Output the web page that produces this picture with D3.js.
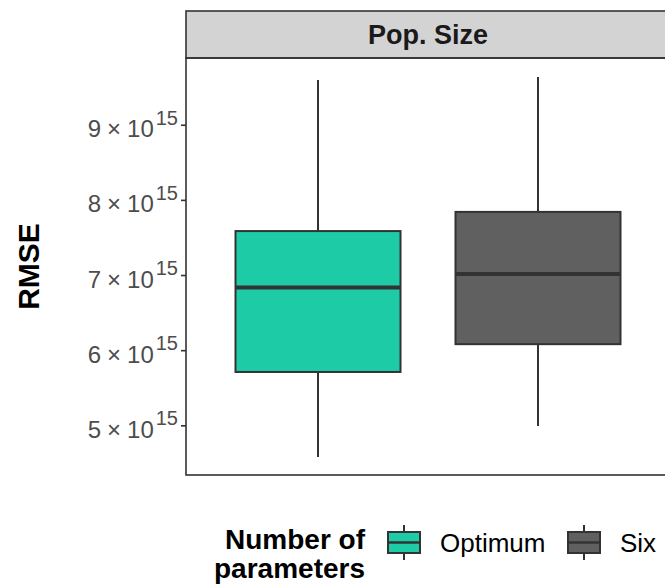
<!DOCTYPE html>
<html>
<head>
<meta charset="utf-8">
<script src="https://cdn.jsdelivr.net/npm/d3@7"></script>
<style>
body { margin: 0; background: #fff; }
svg { display: block; font-family: "Liberation Sans", Arial, sans-serif; }
</style>
</head>
<body>
<svg id="chart" width="665" height="587"></svg>
<script>
// ---- data ----
const categories = ["Optimum", "Six"];
const colors = ["#1ECBA7", "#606060"];
const whiskerLow = [4.58e15, 4.99e15];
const q1 = [5.71e15, 6.08e15];
const median = [6.835e15, 7.015e15];
const q3 = [7.585e15, 7.84e15];
const whiskerHigh = [9.595e15, 9.635e15];
const tickMantissa = [5, 6, 7, 8, 9];
const tickExponent = 15;
const facetLabel = "Pop. Size";
const yTitle = "RMSE";
const legendTitle = ["Number of", "parameters"];

const svg = d3.select("#chart");
const panel = { left: 186, top: 58, right: 670, bottom: 475 };
const strip = { top: 11, bottom: 58 };

// ggplot-like discrete positions at 1..n with 0.6 expansion
const xc = d3.scaleLinear().domain([0.4, categories.length + 0.6]).range([panel.left, panel.right]);
const boxW = xc(1.75) - xc(1);

const y = d3.scaleLinear().domain([4.339e15, 9.888e15]).range([panel.bottom, panel.top]);

const dark = "#333333";

// strip
svg.append("rect").attr("x", panel.left).attr("y", strip.top)
  .attr("width", panel.right - panel.left).attr("height", strip.bottom - strip.top)
  .attr("fill", "#d3d3d3").attr("stroke", dark).attr("stroke-width", 1.6);
svg.append("text").attr("x", 428).attr("y", (strip.top + strip.bottom) / 2)
  .attr("dy", "0.36em").attr("text-anchor", "middle")
  .attr("font-size", 27).attr("font-weight", "bold").attr("fill", "#1a1a1a").text(facetLabel);

// panel border
svg.append("rect").attr("x", panel.left).attr("y", panel.top)
  .attr("width", panel.right - panel.left).attr("height", panel.bottom - panel.top)
  .attr("fill", "none").attr("stroke", dark).attr("stroke-width", 1.6);

// y axis
const yAxis = d3.axisLeft(y).tickValues(tickMantissa.map(m => m * Math.pow(10, tickExponent)))
  .tickSize(5).tickPadding(4).tickFormat("");
const ga = svg.append("g").attr("transform", `translate(${panel.left},0)`).call(yAxis);
ga.select(".domain").remove();
ga.selectAll(".tick line").attr("stroke", dark).attr("stroke-width", 1.6);
ga.selectAll(".tick").each(function(d, i) {
  const t = d3.select(this).append("text").attr("x", -8).attr("dy", "0.5em")
    .attr("text-anchor", "end").attr("fill", "#4d4d4d").attr("font-size", 24);
  t.append("tspan").text(tickMantissa[i]);
  t.append("tspan").attr("dx", 6).text("\u00d7");
  t.append("tspan").attr("dx", 6).text("10");
  t.append("tspan").attr("font-size", 20).attr("dy", "-0.62em").attr("dx", 2).text(tickExponent);
});

// y title
svg.append("text").attr("transform", `translate(39,${(panel.top + panel.bottom) / 2}) rotate(-90)`)
  .attr("text-anchor", "middle").attr("font-size", 30).attr("font-weight", "bold")
  .attr("fill", "#000").text(yTitle);

// boxes
const g = svg.append("g");
categories.forEach((c, i) => {
  const cx = xc(i + 1);
  g.append("line").attr("x1", cx).attr("x2", cx).attr("y1", y(whiskerHigh[i])).attr("y2", y(q3[i]))
    .attr("stroke", dark).attr("stroke-width", 2);
  g.append("line").attr("x1", cx).attr("x2", cx).attr("y1", y(q1[i])).attr("y2", y(whiskerLow[i]))
    .attr("stroke", dark).attr("stroke-width", 2);
  g.append("rect").attr("x", cx - boxW / 2).attr("y", y(q3[i]))
    .attr("width", boxW).attr("height", y(q1[i]) - y(q3[i]))
    .attr("fill", colors[i]).attr("stroke", dark).attr("stroke-width", 2);
  g.append("line").attr("x1", cx - boxW / 2).attr("x2", cx + boxW / 2)
    .attr("y1", y(median[i])).attr("y2", y(median[i]))
    .attr("stroke", dark).attr("stroke-width", 4);
});

// legend
const lg = svg.append("g");
lg.append("text").attr("x", 365).attr("y", 549).attr("text-anchor", "end")
  .attr("font-size", 28).attr("font-weight", "bold").attr("fill", "#000").text(legendTitle[0]);
lg.append("text").attr("x", 365).attr("y", 578).attr("text-anchor", "end")
  .attr("font-size", 28).attr("font-weight", "bold").attr("fill", "#000").text(legendTitle[1]);
const keyX = [388, 568];
const labX = [440, 620];
categories.forEach((c, i) => {
  const kx = keyX[i], kw = 32, ky = 532, kh = 21;
  lg.append("line").attr("x1", kx + kw / 2).attr("x2", kx + kw / 2).attr("y1", 525).attr("y2", 560)
    .attr("stroke", dark).attr("stroke-width", 2);
  lg.append("rect").attr("x", kx).attr("y", ky).attr("width", kw).attr("height", kh)
    .attr("fill", colors[i]).attr("stroke", dark).attr("stroke-width", 2);
  lg.append("line").attr("x1", kx).attr("x2", kx + kw).attr("y1", ky + kh / 2).attr("y2", ky + kh / 2)
    .attr("stroke", dark).attr("stroke-width", 2.5);
  lg.append("text").attr("x", labX[i]).attr("y", 543).attr("dy", "0.36em")
    .attr("font-size", 26).attr("fill", "#000").text(c);
});
</script>
</body>
</html>
